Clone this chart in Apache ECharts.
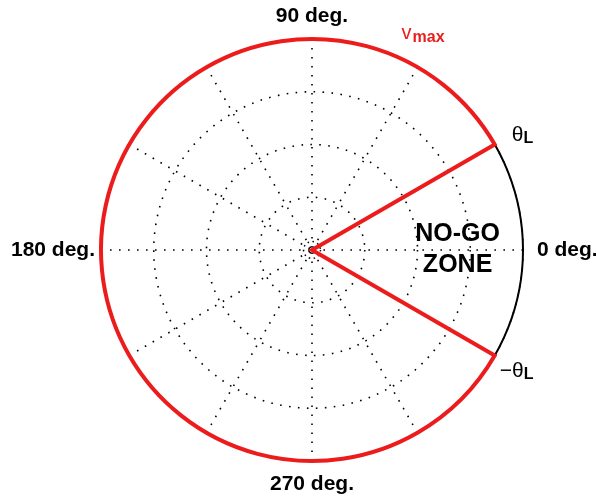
<!DOCTYPE html>
<html>
<head>
<meta charset="utf-8">
<script src="https://cdn.jsdelivr.net/npm/echarts@6/dist/echarts.min.js"></script>
<style>
  html, body { margin: 0; padding: 0; background: #fff; }
  #chart { width: 596px; height: 499px; }
</style>
</head>
<body>
<div id="chart"></div>
<script>
// ---- data ----
const thetaL = 30;                 // no-go half angle, degrees
const vMax = 1;                    // outer radius (v_max)
const radiusInterval = 0.25;       // dotted range rings
const innerRing = 0.04;            // small ring around origin
const angleInterval = 30;          // dotted spokes
const labelAngles = [0, 90, 180, 270];
const labelTexts = ['0 deg.', '90 deg.', '180 deg.', '270 deg.'];
const labelStyles = ['r0', 'r90', 'r180', 'r270'];

// ---- layout / style ----
const CX = 312, CY = 250, R = 211;
const RED = '#ec1c1c';
const FONT = '"Liberation Sans", Arial, Helvetica, sans-serif';
const dotted = { color: '#000', width: 1.6, type: [1.6, 7.4], cap: 'butt' };

const chart = echarts.init(document.getElementById('chart'), null, { renderer: 'canvas' });

const option = {
  animation: false,
  backgroundColor: '#fff',
  polar: [
    { center: [CX, CY], radius: R },
    { center: [CX, CY], radius: R * innerRing / vMax }
  ],
  angleAxis: [
    {
      polarIndex: 0, type: 'value', min: 0, max: 360, interval: angleInterval,
      startAngle: 0, clockwise: false,
      axisLine: { show: true, lineStyle: { color: '#000', width: 2 } },
      axisTick: { show: false },
      splitLine: { show: true, lineStyle: dotted },
      axisLabel: {
        show: true, margin: 6, color: '#000', fontFamily: FONT, fontSize: 21, fontWeight: 'bold',
        formatter: function (v) {
          const i = labelAngles.indexOf(v);
          return i >= 0 && v !== 360 ? '{' + labelStyles[i] + '|' + labelTexts[i] + '}' : '';
        },
        rich: {
          r0: { fontFamily: FONT, fontSize: 21, fontWeight: 'bold', color: '#000', padding: [0, 0, 0, 8] },
          r90: { fontFamily: FONT, fontSize: 21, fontWeight: 'bold', color: '#000', padding: [0, 0, 6, 0] },
          r180: { fontFamily: FONT, fontSize: 21, fontWeight: 'bold', color: '#000' },
          r270: { fontFamily: FONT, fontSize: 21, fontWeight: 'bold', color: '#000', padding: [7, 0, 0, 0] }
        }
      }
    },
    {
      polarIndex: 1, type: 'value', min: 0, max: 360, startAngle: 0, clockwise: false,
      axisLine: { show: true, lineStyle: { color: '#000', width: 1.5, type: [1.5, 3.5] } },
      axisTick: { show: false }, axisLabel: { show: false }, splitLine: { show: false }
    }
  ],
  radiusAxis: [
    {
      polarIndex: 0, type: 'value', min: 0, max: vMax, interval: radiusInterval,
      axisLine: { show: false }, axisTick: { show: false }, axisLabel: { show: false },
      splitLine: { show: true, showMaxLine: false, lineStyle: dotted }
    },
    {
      polarIndex: 1, type: 'value', min: 0, max: 1, show: false,
      axisLine: { show: false }, axisTick: { show: false }, axisLabel: { show: false }, splitLine: { show: false }
    }
  ],
  series: [
    {
      type: 'pie',
      center: [CX, CY],
      radius: [0, R],
      startAngle: thetaL,
      clockwise: false,
      silent: true,
      label: { show: false }, labelLine: { show: false },
      emphasis: { disabled: true },
      z: 3,
      data: [
        { value: 360 - 2 * thetaL, itemStyle: { color: 'rgba(0,0,0,0)', borderColor: RED, borderWidth: 4, borderJoin: 'miter', borderMiterLimit: 10 } },
        { value: 2 * thetaL, itemStyle: { color: 'rgba(0,0,0,0)', borderWidth: 0 } }
      ]
    },
    {
      type: 'scatter',
      coordinateSystem: 'polar',
      polarIndex: 0,
      symbolSize: 0,
      silent: true,
      itemStyle: { opacity: 1 },
      z: 4,
      data: [
        {
          value: [0.69 * vMax, 0],
          label: {
            show: true, position: 'inside', formatter: 'NO-GO\nZONE',
            fontFamily: FONT, fontSize: 25, fontWeight: 'bold', color: '#000', lineHeight: 31, align: 'center'
          }
        },
        {
          value: [vMax, thetaL],
          label: {
            show: true, position: [17, -20], align: 'left', verticalAlign: 'top',
            formatter: '{t|θ}{s|L}',
            rich: {
              t: { fontFamily: FONT, fontSize: 21, color: '#000', lineHeight: 22, verticalAlign: 'top', padding: [0, 0, 10, 0] },
              s: { fontFamily: FONT, fontSize: 16, fontWeight: 'bold', color: '#000', lineHeight: 16, verticalAlign: 'bottom' }
            }
          }
        },
        {
          value: [vMax, 360 - thetaL],
          label: {
            show: true, position: [5, 5], align: 'left', verticalAlign: 'top',
            formatter: '{t|−θ}{s|L}',
            rich: {
              t: { fontFamily: FONT, fontSize: 21, color: '#000', lineHeight: 22, verticalAlign: 'top', padding: [0, 0, 10, 0] },
              s: { fontFamily: FONT, fontSize: 16, fontWeight: 'bold', color: '#000', lineHeight: 16, verticalAlign: 'bottom' }
            }
          }
        },
        {
          value: [vMax, 60],
          label: {
            show: true, position: [-16, -44], align: 'left', verticalAlign: 'top',
            formatter: '{t|v}{s|max}',
            rich: {
              t: { fontFamily: FONT, fontSize: 20, color: RED, lineHeight: 22, verticalAlign: 'top', padding: [0, 1, 10, 0] },
              s: { fontFamily: FONT, fontSize: 16, fontWeight: 'bold', color: RED, lineHeight: 16, verticalAlign: 'bottom' }
            }
          }
        }
      ]
    }
  ]
};

chart.setOption(option);
</script>
</body>
</html>
